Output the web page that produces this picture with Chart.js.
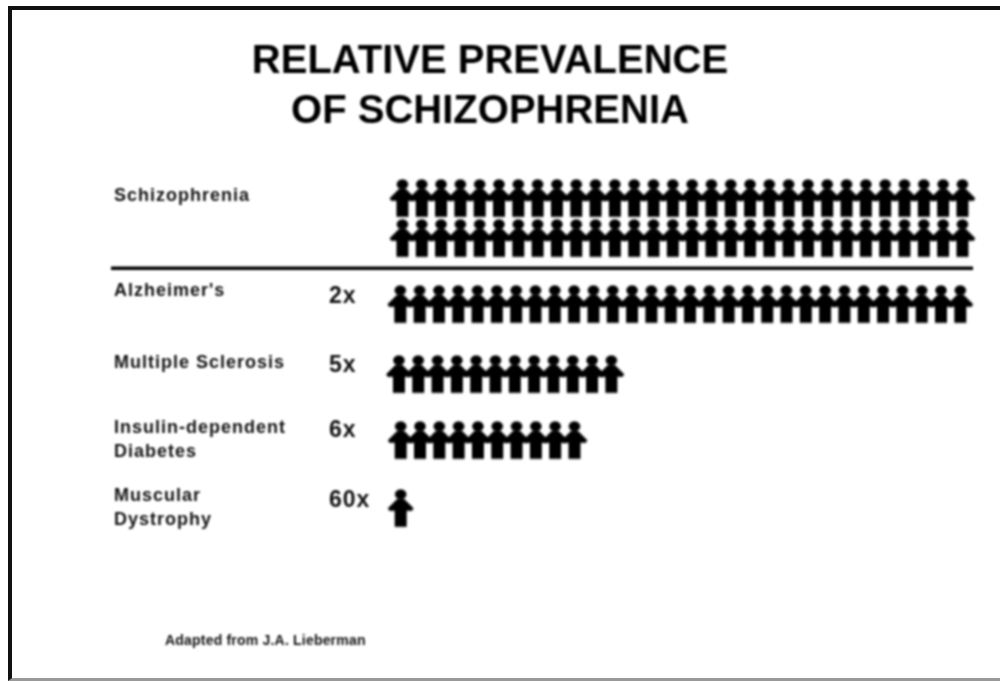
<!DOCTYPE html>
<html>
<head>
<meta charset="utf-8">
<script src="https://cdn.jsdelivr.net/npm/chart.js@4"></script>
<style>
  html, body { margin: 0; background: #fff; }
  #frame { position: absolute; left: 8px; top: 6px; width: 992px; height: 675px; border-left: 4px solid #111; border-top: 4px solid #111; border-bottom: 3px solid #999; box-sizing: border-box; filter: blur(0.6px); }
  #myChart { position: absolute; left: 0; top: 0; filter: blur(0.8px); }
</style>
</head>
<body>
<canvas id="myChart" width="1000" height="681"></canvas>
<div id="frame"></div>
<script>
var titleLines = ["RELATIVE PREVALENCE", "OF SCHIZOPHRENIA"];
var categories = [["Schizophrenia"], ["Alzheimer's"], ["Multiple Sclerosis"], ["Insulin-dependent", "Diabetes"], ["Muscular", "Dystrophy"]];
var multipliers = ["", "2x", "5x", "6x", "60x"];
var figureCounts = [60, 30, 12, 10, 1];
var perRow = 30;
var source = "Adapted from J.A. Lieberman";

// row slots on the y scale, one slot is about 67px
var rowSlots = [[0, 0.6], [1.59], [2.64], [3.63], [4.65]];
var rowNudge = [0.09, -0.02, -0.09, 0, 0];
var labelSlots = [-0.04, 1.39, 2.47, 3.63, 4.65];
var multSlots = [-0.05, 1.48, 2.51, 3.49, 4.53];
var dividerSlot = 1.05;

function makeFigure() {
  var c = document.createElement("canvas");
  c.width = 28;
  c.height = 40;
  var g = c.getContext("2d");
  g.fillStyle = "#000";
  g.beginPath();
  g.ellipse(14, 6, 5.8, 5, 0, 0, Math.PI * 2);
  g.fill();
  g.beginPath();
  g.moveTo(10.5, 10.5);
  g.lineTo(17.5, 10.5);
  g.lineTo(26.5, 19.5);
  g.lineTo(26.5, 21);
  g.lineTo(25, 22.5);
  g.lineTo(20, 22.5);
  g.lineTo(20, 38.5);
  g.lineTo(8, 38.5);
  g.lineTo(8, 22.5);
  g.lineTo(3, 22.5);
  g.lineTo(1.5, 21);
  g.lineTo(1.5, 19.5);
  g.closePath();
  g.fill();
  return c;
}

var figure = makeFigure();
var points = [];
figureCounts.forEach(function (count, r) {
  for (var i = 0; i < count; i++) {
    points.push({
      x: i % perRow + rowNudge[r],
      y: rowSlots[r][Math.floor(i / perRow)]
    });
  }
});

// the scan has wide letter spacing on the row labels, Chart.js has no option for it
var spacedLabels = {
  id: "spacedLabels",
  beforeDraw: function (chart) {
    [chart.scales.y, chart.scales.y2].forEach(function (s) {
      if (s.spaced) return;
      s.spaced = true;
      var drawLabels = s.drawLabels;
      s.drawLabels = function (area) {
        chart.ctx.save();
        chart.ctx.letterSpacing = "1px";
        drawLabels.call(s, area);
        chart.ctx.restore();
      };
    });
  }
};

var sourceNote = {
  id: "sourceNote",
  afterDraw: function (chart) {
    var ctx = chart.ctx;
    ctx.save();
    ctx.font = "bold 14px 'Liberation Sans'";
    ctx.letterSpacing = "0.2px";
    ctx.fillStyle = "#111";
    ctx.textBaseline = "middle";
    ctx.fillText(source, 165, 641);
    ctx.restore();
  }
};

function slotTicks(slots) {
  return function (scale) {
    scale.ticks = slots.map(function (v) { return { value: v }; });
  };
}

new Chart("myChart", {
  type: "scatter",
  data: {
    datasets: [{
      data: points,
      xAxisID: "x",
      yAxisID: "y",
      pointStyle: figure,
      pointRadius: 14,
      clip: false
    }, {
      type: "line",
      data: [{ x: -15, y: dividerSlot }, { x: 29.64, y: dividerSlot }],
      xAxisID: "x",
      yAxisID: "y",
      borderColor: "#000",
      borderWidth: 3.5,
      pointRadius: 0,
      clip: false
    }]
  },
  plugins: [spacedLabels, sourceNote],
  options: {
    responsive: false,
    animation: false,
    layout: { padding: { left: 0, right: 20, top: 0, bottom: 116 } },
    plugins: {
      legend: { display: false },
      tooltip: { enabled: false },
      title: {
        display: true,
        text: titleLines,
        color: "#000",
        font: { family: "'Liberation Sans'", size: 40, weight: "bold", lineHeight: 1.25 },
        padding: { top: 37, bottom: 28 }
      }
    },
    scales: {
      x: { type: "linear", display: false, min: -0.5, max: 30 },
      // empty axis, keeps the title centred on the whole page
      spacer: {
        axis: "y",
        type: "linear",
        position: "left",
        weight: 2,
        afterFit: function (s) { s.width = 114; },
        grid: { display: false },
        border: { display: false },
        ticks: { display: false }
      },
      y: {
        type: "linear",
        position: "left",
        reverse: true,
        min: -0.5,
        max: 5.5,
        weight: 1,
        afterFit: function (s) { s.width = 215; },
        afterBuildTicks: slotTicks(labelSlots),
        grid: { display: false },
        border: { display: false },
        ticks: {
          crossAlign: "far",
          padding: 0,
          color: "#111",
          font: { family: "'Liberation Sans'", size: 18, weight: "bold", lineHeight: 1.33 },
          callback: function (v, i) { return categories[i]; }
        }
      },
      y2: {
        type: "linear",
        position: "left",
        reverse: true,
        min: -0.5,
        max: 5.5,
        weight: 0,
        afterFit: function (s) { s.width = 62; },
        afterBuildTicks: slotTicks(multSlots),
        grid: { display: false },
        border: { display: false },
        ticks: {
          crossAlign: "far",
          padding: 0,
          color: "#111",
          font: { family: "'Liberation Sans'", size: 23, weight: "bold" },
          callback: function (v, i) { return multipliers[i]; }
        }
      }
    }
  }
});
</script>
</body>
</html>
